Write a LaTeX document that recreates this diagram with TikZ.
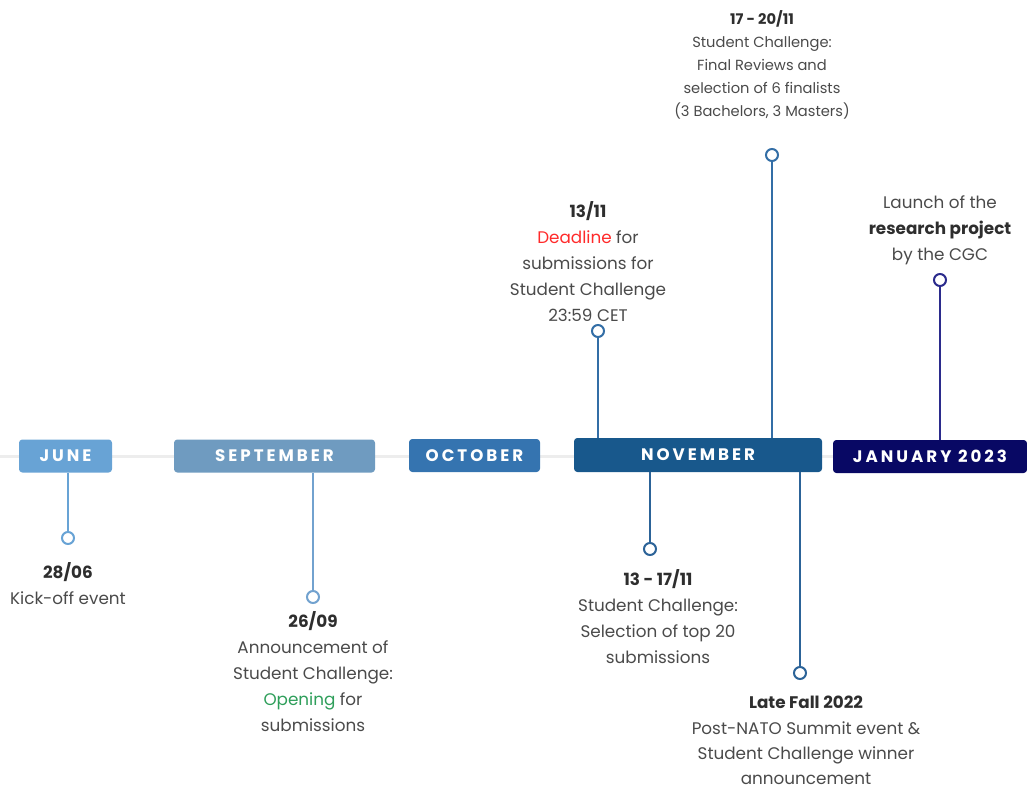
\documentclass[tikz,border=0pt]{standalone}
\usepackage{fontspec}
\setmainfont{Poppins}
\newfontfamily\monthfont[LetterSpace=18]{Poppins}
\usepackage{xcolor}

\definecolor{junecol}{HTML}{68A3D5}
\definecolor{sepcol}{HTML}{6F9BC0}
\definecolor{octcol}{HTML}{3574B0}
\definecolor{novcol}{HTML}{18588C}
\definecolor{jancol}{HTML}{080864}
\definecolor{sepstem}{HTML}{72A2CF}
\definecolor{novstem}{HTML}{336EA6}
\definecolor{novstemb}{HTML}{2C6398}
\definecolor{janstem}{HTML}{2B2B8C}
\definecolor{textcol}{HTML}{4A4A4A}
\definecolor{datecol}{HTML}{2E2E2E}
\definecolor{redcol}{HTML}{FF2A2A}
\definecolor{greencol}{HTML}{2E9E5A}
\definecolor{railcol}{HTML}{EDEDED}

\newcommand\evdate[1]{{\color{datecol}\bfseries #1}}

\tikzset{
  month/.style={fill=#1, rounded corners=2.5pt, minimum height=24.75pt, inner sep=0pt,
    text=white, font=\monthfont\bfseries\fontsize{12.5}{14}\selectfont},
  dot/.style={circle, draw=#1, line width=1.5pt, fill=white, minimum size=9pt, inner sep=0pt},
  stem/.style={draw=#1, line width=1.5pt},
  info/.style={anchor=north, align=center, inner sep=0pt, text=textcol,
    font=\fontsize{12.6}{19.5}\selectfont},
  infosmall/.style={info, font=\fontsize{11}{17.25}\selectfont},
  infotight/.style={info, font=\fontsize{12.6}{19}\selectfont}
}

\begin{document}
\begin{tikzpicture}[x=0.75pt,y=-0.75pt]
\useasboundingbox (0,0) rectangle (1027,787);

% rail behind the months
\coordinate (railL) at (0,456);
\coordinate (railR) at (1027,456);
\draw[railcol, line width=2.25pt] (railL) -- (railR);

% months
\node[month=junecol, minimum width=69.75pt] (june) at (65.5,456) {JUNE};
\node[month=sepcol, minimum width=150.75pt] (sept) at (274.5,456) {SEPTEMBER};
\node[month=octcol, minimum width=98.25pt] (oct) at (474.5,455.5) {OCTOBER};
\node[month=novcol, minimum width=186pt, minimum height=25.5pt] (nov) at (698,455) {NOVEMBER};
\node[month=jancol, minimum width=145.5pt] (jan) at (930,456.5) {JANUARY 2023};

% event dots
\node[dot=junecol] (d2806) at (68,538) {};
\node[dot=sepstem] (d2609) at (313,597) {};
\node[dot=novstem] (d1311) at (598,331) {};
\node[dot=novstem] (d1720) at (772,155) {};
\node[dot=novstemb] (d1317) at (650,549) {};
\node[dot=novstemb] (dfall) at (800,673) {};
\node[dot=janstem] (djan) at (940,280) {};

% stems
\draw[stem=junecol] (d2806) -- (d2806 |- june.south);
\draw[stem=sepstem] (d2609) -- (d2609 |- sept.south);
\draw[stem=novstem] (d1311) -- (d1311 |- nov.north);
\draw[stem=novstem] (d1720) -- (d1720 |- nov.north);
\draw[stem=novstemb] (d1317) -- (d1317 |- nov.south);
\draw[stem=novstemb] (dfall) -- (dfall |- nov.south);
\draw[stem=janstem] (djan) -- (djan |- jan.north);

% texts
\node[info] (t2806) at (68,562) {\evdate{28/06}\\Kick-off event};
\node[info] (t2609) at (313,611) {\evdate{26/09}\\Announcement of\\Student Challenge:\\
  {\color{greencol}Opening} for\\submissions};
\node[info] (t1311) at (588,201) {\evdate{13/11}\\{\color{redcol}Deadline} for\\
  submissions for\\Student Challenge\\23:59 CET};
\node[infosmall] (t1720) at (762,10) {\evdate{17 - 20/11}\\Student Challenge:\\
  Final Reviews and\\selection of 6 finalists\\(3 Bachelors, 3 Masters)};
\node[info] (tjan) at (940,195) {Launch of the\\\evdate{research project}\\by the CGC};
\node[info] (t1317) at (658,569) {\evdate{13 - 17/11}\\Student Challenge:\\
  Selection of top 20\\submissions};
\node[infotight] (tfall) at (806,696) {\evdate{Late Fall 2022}\\Post-NATO Summit event \&\\
  Student Challenge winner\\announcement};
\end{tikzpicture}
\end{document}
